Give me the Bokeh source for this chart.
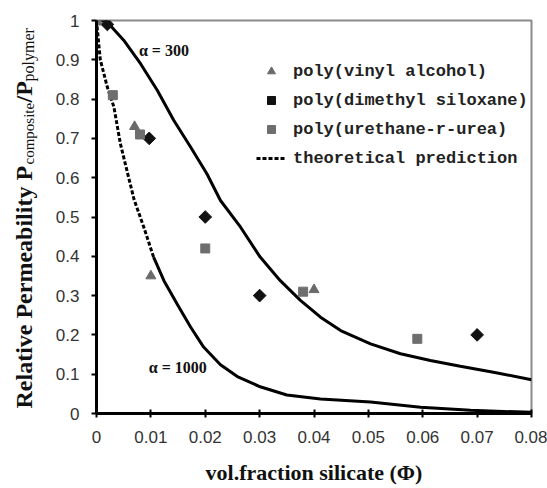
from bokeh.plotting import figure
from bokeh.layouts import row
from bokeh.models import (Range1d, FixedTicker, CustomJSTickFormatter, Label,
                          Legend, LegendItem)
from bokeh.embed import file_html
from bokeh.resources import INLINE

# ---------------- data ----------------
x_ticks = [0, 0.01, 0.02, 0.03, 0.04, 0.05, 0.06, 0.07, 0.08]
y_ticks = [0, 0.1, 0.2, 0.3, 0.4, 0.5, 0.6, 0.7, 0.8, 0.9, 1.0]

pva_x = [0, 0.007, 0.01, 0.04]
pva_y = [1.0, 0.73, 0.35, 0.315]

pdms_x = [0.002, 0.0097, 0.02, 0.03, 0.07]
pdms_y = [0.99, 0.70, 0.50, 0.30, 0.20]

puu_x = [0, 0.003, 0.008, 0.02, 0.038, 0.059]
puu_y = [1.0, 0.81, 0.71, 0.42, 0.31, 0.19]

a300_x = [0, 0.0017, 0.005, 0.0081, 0.0112, 0.0142, 0.0173, 0.0203, 0.0228,
          0.0265, 0.0301, 0.0338, 0.0375, 0.0412, 0.0449, 0.0504, 0.0559,
          0.0614, 0.0669, 0.073, 0.080]
a300_y = [1.0, 1.0, 0.95, 0.89, 0.822, 0.746, 0.678, 0.61, 0.542,
          0.474, 0.398, 0.338, 0.288, 0.245, 0.211, 0.177, 0.152,
          0.135, 0.12, 0.105, 0.086]

a1000_x = [0, 0.0007, 0.002, 0.0032, 0.0044, 0.0056, 0.0069, 0.0087, 0.0105,
           0.0124, 0.0148, 0.0173, 0.0197, 0.0228, 0.0259, 0.0301, 0.035,
           0.0412, 0.0504, 0.0596, 0.0688, 0.080]
a1000_y = [1.0, 0.9, 0.83, 0.78, 0.686, 0.618, 0.545, 0.474, 0.398,
           0.338, 0.279, 0.22, 0.169, 0.124, 0.094, 0.068, 0.047,
           0.037, 0.029, 0.016, 0.008, 0.003]
a1000_dotted_n = 8  # first points drawn dotted

series_labels = ["poly(vinyl alcohol)", "poly(dimethyl siloxane)",
                 "poly(urethane-r-urea)", "theoretical prediction"]

LEFT_W = 46  # width of the strip holding the y-axis title
TOP, BOTTOM = 20, 75

# ---------------- main figure ----------------
p = figure(width=547 - LEFT_W, height=488, output_backend="svg",
           toolbar_location=None,
           x_range=Range1d(0, 0.08), y_range=Range1d(0, 1.0),
           min_border_left=96 - LEFT_W, min_border_right=16, min_border_top=TOP,
           min_border_bottom=BOTTOM)
p.background_fill_color = "white"
p.border_fill_color = "white"
p.outline_line_color = "#8a8a8a"
p.outline_line_width = 2
p.xgrid.visible = False
p.ygrid.visible = False

fmt = "return String(Math.round(tick*100)/100)"
for ax, ticks in ((p.xaxis, x_ticks), (p.yaxis, y_ticks)):
    ax.ticker = FixedTicker(ticks=ticks)
    ax.formatter = CustomJSTickFormatter(code=fmt)
    ax.axis_line_color = "black"
    ax.axis_line_width = 3
    ax.major_tick_line_color = "black"
    ax.major_tick_line_width = 2
    ax.minor_tick_line_color = None
    ax.major_label_text_font = "Liberation Sans"
    ax.major_label_text_font_size = "17px"
    ax.major_label_text_color = "#333333"

p.xaxis.major_tick_in = 4
p.xaxis.major_tick_out = 4
p.xaxis.major_label_standoff = 13
p.yaxis.major_tick_in = 0
p.yaxis.major_tick_out = 5
p.yaxis.major_label_standoff = 12

p.xaxis.axis_label = "vol.fraction silicate (\u03a6)"
p.xaxis.axis_label_text_font = "Liberation Serif"
p.xaxis.axis_label_text_font_style = "bold"
p.xaxis.axis_label_text_font_size = "22px"
p.xaxis.axis_label_text_color = "#111111"
p.xaxis.axis_label_standoff = 14

# ---------------- curves ----------------
r300 = p.line(a300_x, a300_y, line_color="black", line_width=3)
r1000_dot = p.line(a1000_x[:a1000_dotted_n + 1], a1000_y[:a1000_dotted_n + 1],
                   line_color="black", line_width=3, line_dash="4 2")
r1000 = p.line(a1000_x[a1000_dotted_n:], a1000_y[a1000_dotted_n:],
               line_color="black", line_width=3)

# ---------------- data points ----------------
r_pva = p.scatter(pva_x, pva_y, marker="triangle", size=10,
                  fill_color="#6a6a6a", line_color="#6a6a6a")
r_pdms = p.scatter(pdms_x, pdms_y, marker="square", angle=0.785398, size=9,
                   fill_color="#111111", line_color="#111111")
r_puu = p.scatter(puu_x, puu_y, marker="square", size=9,
                  fill_color="#6e6e6e", line_color="#6e6e6e")

# ---------------- legend ----------------
legend = Legend(items=[LegendItem(label=series_labels[0], renderers=[r_pva]),
                       LegendItem(label=series_labels[1], renderers=[r_pdms]),
                       LegendItem(label=series_labels[2], renderers=[r_puu]),
                       LegendItem(label=series_labels[3], renderers=[r1000_dot])],
                location=(160, 245))
legend.background_fill_alpha = 0
legend.border_line_alpha = 0
legend.padding = 0
legend.margin = 0
legend.spacing = 9
legend.glyph_height = 20
legend.glyph_width = 30
legend.label_height = 20
legend.label_standoff = 7
legend.label_text_font = "Liberation Mono"
legend.label_text_font_size = "17px"
legend.label_text_font_style = "bold"
legend.label_text_color = "#222222"
p.add_layout(legend)

# ---------------- annotations ----------------
for txt, lx, ly in (("\u03b1 = 300", 0.0078, 0.924), ("\u03b1 = 1000", 0.0096, 0.117)):
    p.add_layout(Label(x=lx, y=ly, text=txt, text_font="Liberation Serif",
                       text_font_style="bold", text_font_size="16px",
                       text_baseline="middle", text_color="#111111"))

# ---------------- strip with the y-axis title (pixel coordinates) ----------------
q = figure(width=LEFT_W, height=488, output_backend="svg", toolbar_location=None,
           x_range=Range1d(0, LEFT_W), y_range=Range1d(488 - BOTTOM, TOP),
           x_axis_type=None, y_axis_type=None,
           min_border_left=0, min_border_right=0, min_border_top=TOP,
           min_border_bottom=BOTTOM)
q.outline_line_color = None
q.xgrid.visible = False
q.ygrid.visible = False
q.background_fill_color = "white"
q.border_fill_color = "white"

ylab_parts = [("Relative Permeability P", 23, 408, "24px", "bold"),
              ("composite", 28, 164, "15px", "normal"),
              ("/P", 23, 102, "24px", "bold"),
              ("polymer", 28, 81, "16px", "normal")]
for txt, lx, ly, fs, st in ylab_parts:
    q.add_layout(Label(x=lx, y=ly, text=txt,
                       angle=90, angle_units="deg", text_font="Liberation Serif",
                       text_font_size=fs, text_font_style=st,
                       text_align="left", text_baseline="alphabetic",
                       text_color="#111111"))

layout = row(q, p, spacing=0)
open("out.html", "w").write(file_html(layout, INLINE))
